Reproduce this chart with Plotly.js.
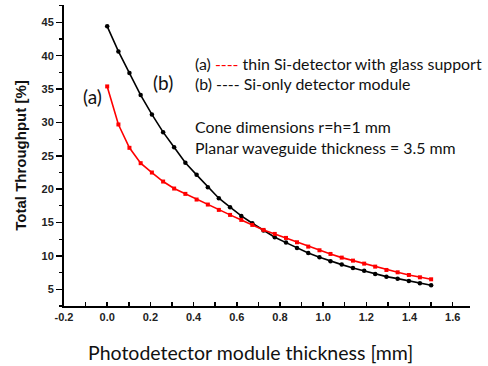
<!DOCTYPE html>
<html><head><meta charset="utf-8">
<script src="https://cdn.plot.ly/plotly-3.0.1.min.js"></script>
<style>html,body{margin:0;padding:0;background:#fff}#chart{width:488px;height:366px}</style>
</head><body><div id="chart"></div>
<script>
const thickness = [0, 0.052, 0.103, 0.155, 0.207, 0.259, 0.310, 0.362, 0.414, 0.466, 0.517, 0.569, 0.621, 0.672, 0.724, 0.776, 0.828, 0.879, 0.931, 0.983, 1.034, 1.086, 1.138, 1.190, 1.241, 1.293, 1.345, 1.397, 1.448, 1.500];
const siOnly = [44.4, 40.65, 37.4, 34.1, 31.2, 28.55, 26.3, 23.95, 22.15, 20.3, 18.65, 17.3, 16.0, 14.9, 13.8, 12.8, 12.0, 11.2, 10.45, 9.8, 9.2, 8.7, 8.2, 7.78, 7.3, 6.9, 6.6, 6.25, 5.9, 5.6];
const glassSupport = [35.4, 29.7, 26.2, 23.9, 22.5, 21.15, 20.1, 19.3, 18.45, 17.7, 16.9, 16.15, 15.4, 14.65, 13.9, 13.3, 12.7, 12.05, 11.4, 10.85, 10.3, 9.75, 9.3, 8.85, 8.4, 7.9, 7.55, 7.15, 6.8, 6.5];
const xTicks = [-0.2, 0.0, 0.2, 0.4, 0.6, 0.8, 1.0, 1.2, 1.4, 1.6];
const xTickText = ['-0.2', '0.0', '0.2', '0.4', '0.6', '0.8', '1.0', '1.2', '1.4', '1.6'];
const yTicks = [5, 10, 15, 20, 25, 30, 35, 40, 45];
const xTitle = 'Photodetector module thickness [mm]';

const traces = [
  {x: thickness, y: siOnly, type: 'scatter', mode: 'lines+markers',
   line: {color: '#000', width: 1.6}, marker: {color: '#000', size: 4.5, symbol: 'circle'}},
  {x: thickness, y: glassSupport, type: 'scatter', mode: 'lines+markers',
   line: {color: '#ff0000', width: 1.6}, marker: {color: '#ff0000', size: 4, symbol: 'square'}}
];
const txtFont = {family: 'Lato, "Noto Sans", sans-serif', size: 15.9, color: '#111'};
const layout = {
  width: 488, height: 366,
  margin: {l: 64, r: 18, t: 5, b: 60},
  paper_bgcolor: '#fff', plot_bgcolor: '#fff',
  showlegend: false,
  xaxis: {range: [-0.2, 1.68], tickvals: xTicks, ticktext: xTickText,
    showgrid: false, zeroline: false, showline: true, linecolor: '#000', linewidth: 2,
    ticks: 'inside', ticklen: 4, tickwidth: 1.5, tickcolor: '#000',
    minor: {dtick: 0.1, ticks: 'inside', ticklen: 4, tickwidth: 1.5, tickcolor: '#000'},
    tickfont: {family: 'Arial, "Liberation Sans", sans-serif', size: 11, weight: 'bold', color: '#222'}},
  yaxis: {range: [2.5, 47.6], tickvals: yTicks,
    showgrid: false, zeroline: false, showline: true, linecolor: '#000', linewidth: 2,
    ticks: 'outside', ticklen: 6, tickwidth: 1.5, tickcolor: '#000',
    minor: {dtick: 2.5, ticks: 'outside', ticklen: 3, tickwidth: 1.2, tickcolor: '#000'},
    tickfont: {family: 'Arial, "Liberation Sans", sans-serif', size: 11, weight: 'bold', color: '#222'},
    title: {text: 'Total Throughput [%]', standoff: 11,
      font: {family: 'Arial, "Liberation Sans", sans-serif', size: 15, weight: 'bold', color: '#111'}}},
  annotations: [
    {xref: 'paper', yref: 'paper', x: 0.46, y: -0.153, xanchor: 'center', yanchor: 'middle', showarrow: false,
     text: xTitle, font: {family: 'Lato, "Noto Sans", sans-serif', size: 19.5, color: '#111'}},
    {xref: 'paper', yref: 'paper', x: 0.318, y: 0.807, xanchor: 'left', yanchor: 'middle', showarrow: false,
     text: '(a) <span style="color:#ff0000">----</span> thin Si-detector with glass support', font: txtFont},
    {xref: 'paper', yref: 'paper', x: 0.318, y: 0.738, xanchor: 'left', yanchor: 'middle', showarrow: false,
     text: '(b) ---- Si-only detector module', font: txtFont},
    {xref: 'paper', yref: 'paper', x: 0.318, y: 0.595, xanchor: 'left', yanchor: 'middle', showarrow: false,
     text: 'Cone dimensions r=h=1 mm', font: txtFont},
    {xref: 'paper', yref: 'paper', x: 0.318, y: 0.528, xanchor: 'left', yanchor: 'middle', showarrow: false,
     text: 'Planar waveguide thickness = 3.5 mm', font: txtFont},
    {xref: 'paper', yref: 'paper', x: 0.070, y: 0.695, xanchor: 'center', yanchor: 'middle', showarrow: false,
     text: '(a)', font: {family: txtFont.family, size: 19, color: '#111'}},
    {xref: 'paper', yref: 'paper', x: 0.243, y: 0.741, xanchor: 'center', yanchor: 'middle', showarrow: false,
     text: '(b)', font: {family: txtFont.family, size: 19, color: '#111'}}
  ]
};
Plotly.newPlot('chart', traces, layout, {displayModeBar: false, staticPlot: true});
</script></body></html>
